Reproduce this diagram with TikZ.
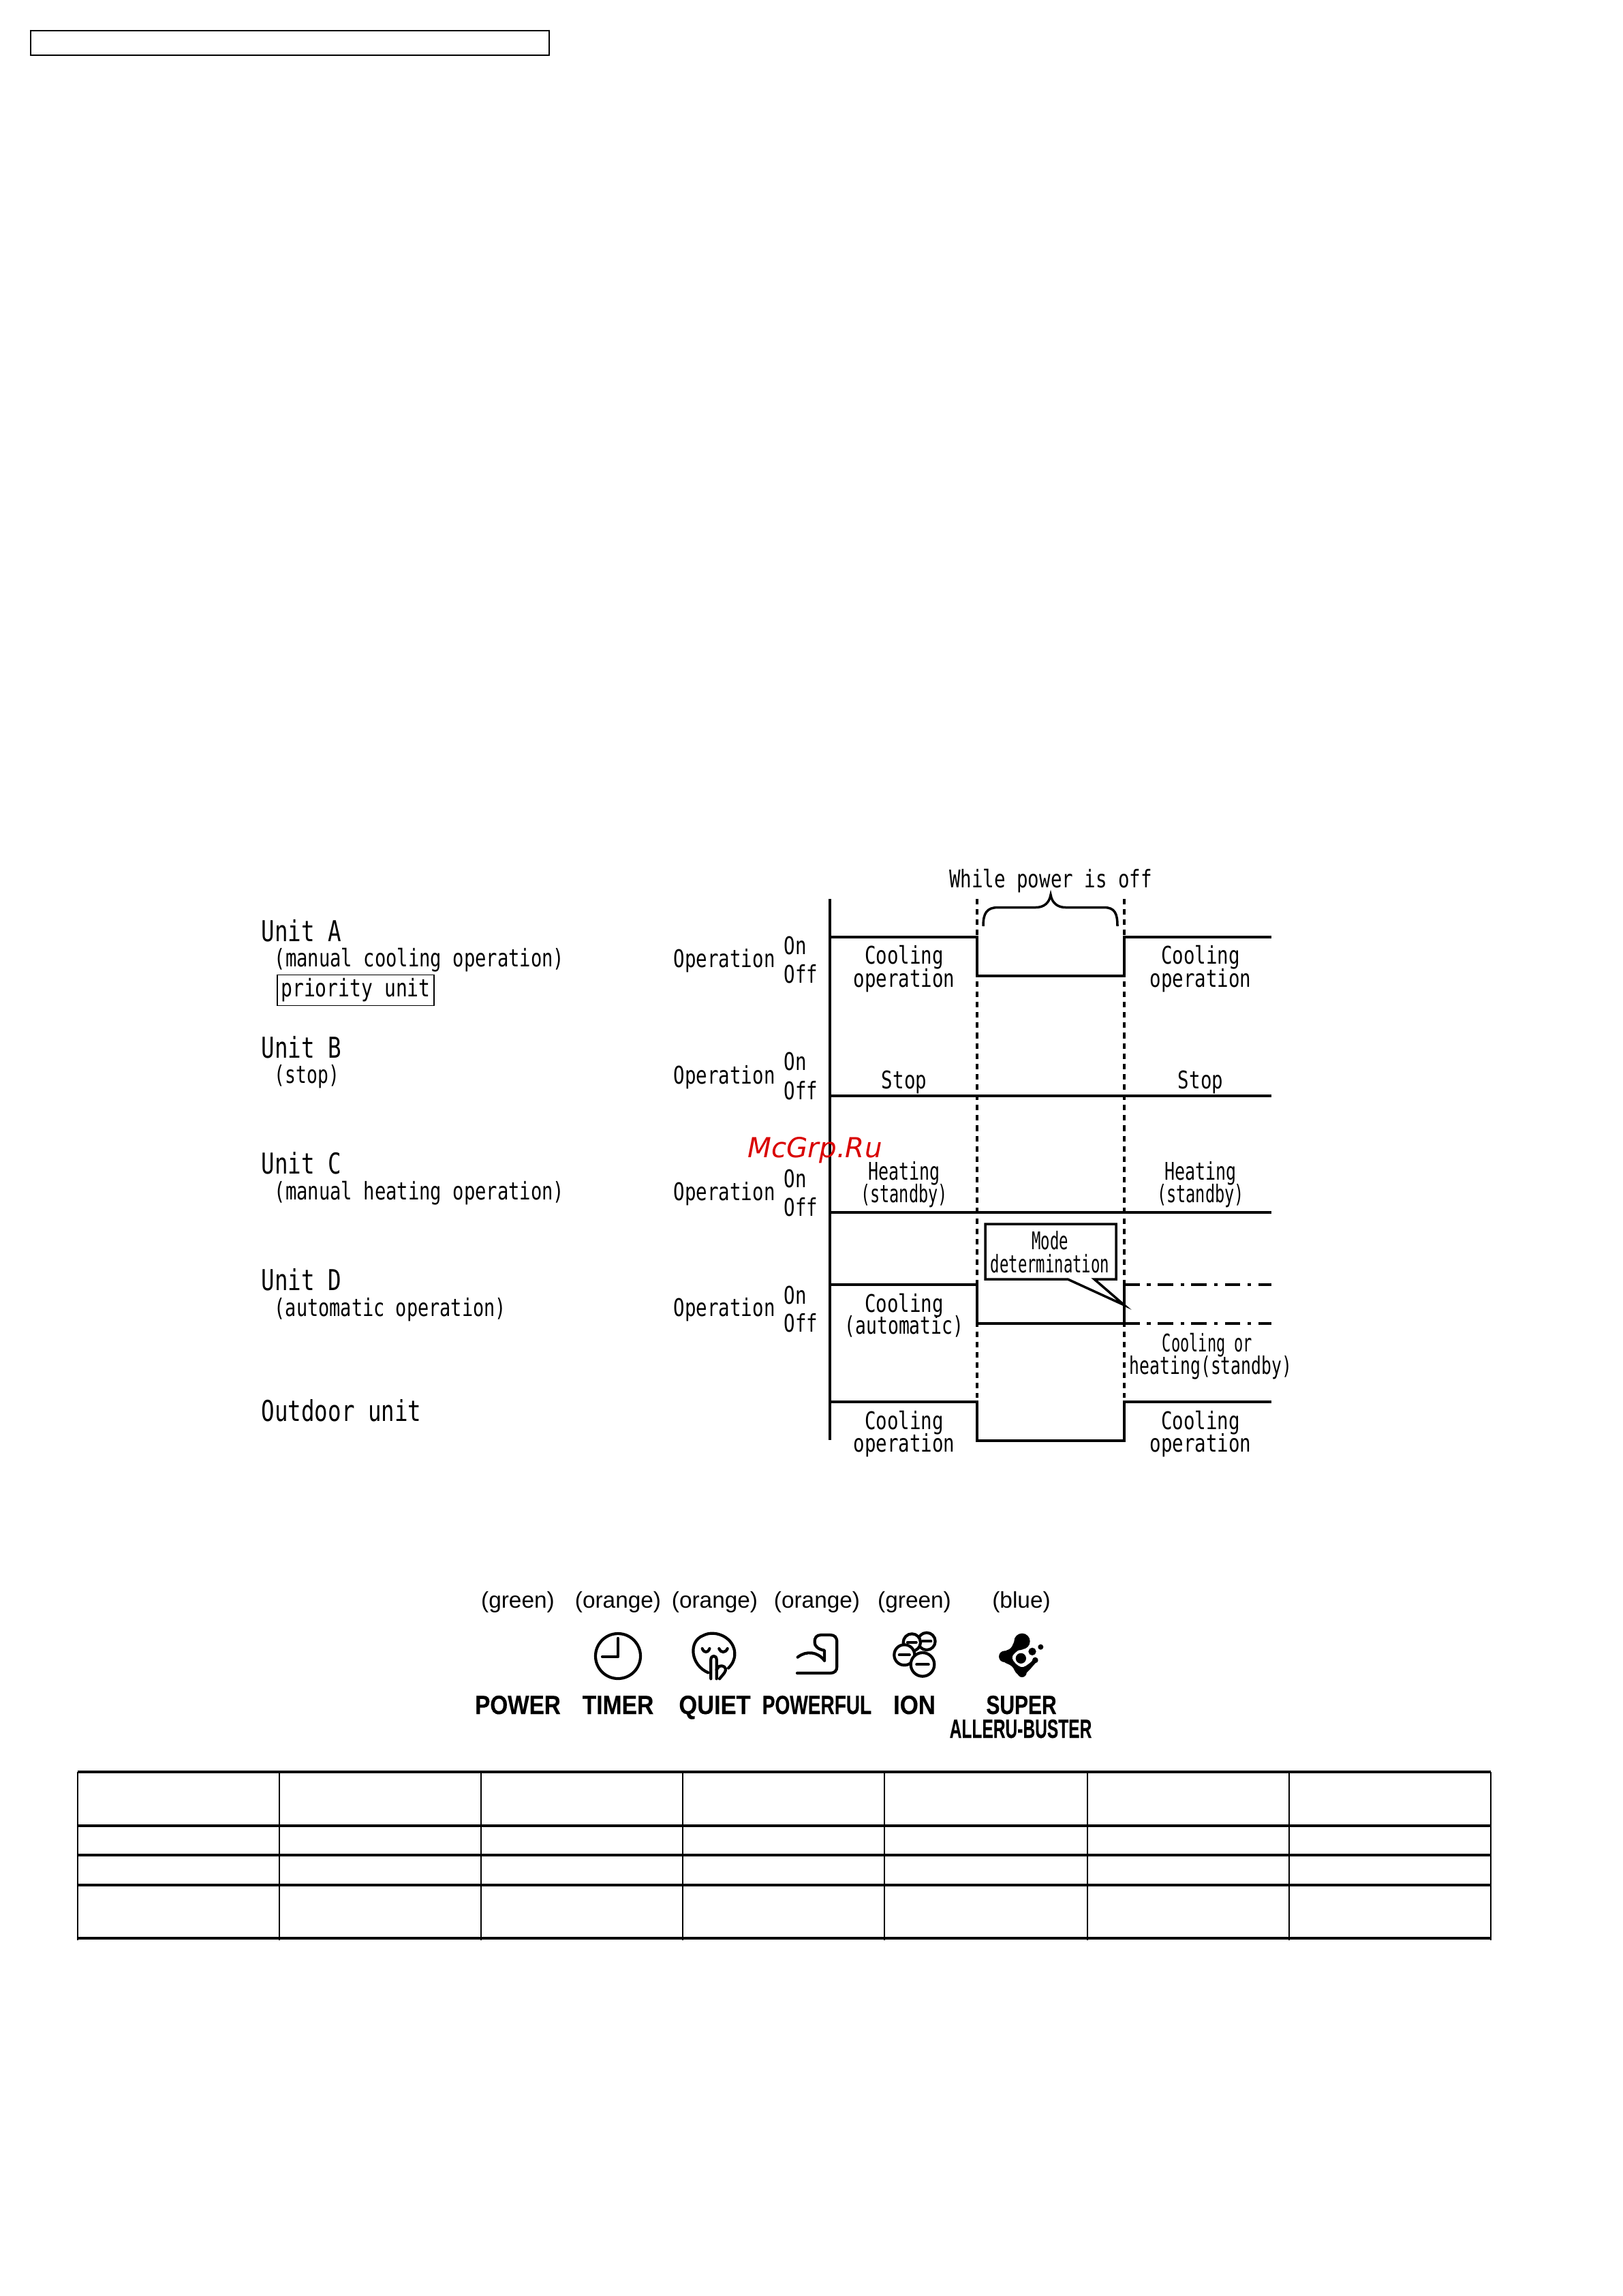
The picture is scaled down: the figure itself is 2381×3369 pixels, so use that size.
\documentclass[tikz,border=0pt]{standalone}
\usepackage{fontspec}
\usepackage{graphicx}
\setmainfont{Liberation Sans}[BoldFeatures={FakeBold=0.4}]
\newfontfamily\gothic[FakeStretch=0.77]{DejaVu Sans Mono}
\newfontfamily\wmfont{DejaVu Sans}
\newcommand{\nar}[2]{\scalebox{#1}[1]{#2}}
\tikzset{
	lbl/.style={inner sep=0pt,anchor=base,font=\gothic\fontsize{10.15}{12}\selectfont},
	lblw/.style={lbl,anchor=base west},
	unitname/.style={inner sep=0pt,anchor=base west,font=\gothic\fontsize{12}{14}\selectfont},
	ledcolor/.style={inner sep=0pt,anchor=base,font=\fontsize{9.5}{11}\selectfont},
	ledname/.style={inner sep=0pt,anchor=base,font=\bfseries\fontsize{11}{12}\selectfont},
	level/.style={line width=1pt},
	levelthick/.style={line width=1.2pt},
	guide/.style={line width=1.1pt,dash pattern=on 2.3pt off 2pt},
	dashlevel/.style={line width=0.9pt,dash pattern=on 6.5pt off 3pt on 1.5pt off 3pt},
	icon/.style={line width=1.2pt,line cap=round,line join=round}
}
\begin{document}
\begin{tikzpicture}[x=0.1mm,y=-0.1mm]
	\useasboundingbox (0,0) rectangle (2381,3369);
	\draw[line width=0.8pt] (45,45) rectangle (806,81);%header box
	%left column
	\foreach \y/\t in {1381/A,1552/B,1722/C,1893/D}{
		\node[unitname] (unit\t) at (383,\y) {Unit \t};
	}
	\node[unitname] (outdoor) at (383,2085) {Outdoor unit};
	\node[lblw] (subA) at (402,1418) {\nar{.99}{(manual cooling operation)}};
	\node[lblw] (subB) at (402,1589) {\nar{.96}{(stop)}};
	\node[lblw] (subC) at (402,1760) {\nar{.99}{(manual heating operation)}};
	\node[lblw] (subD) at (402,1931) {\nar{.98}{(automatic operation)}};
	\node[lbl,draw,line width=0.45pt,anchor=center,minimum width=23mm,minimum height=4.5mm] (prio) at (522,1453) {\nar{1.02}{priority unit}};
	\foreach \y/\n in {1419/1,1590/2,1761/3,1931/4}{
		\node[lblw] (oper\n) at (988,\y) {Operation};
	}
	\foreach \y/\n in {1400/1,1570/2,1742/3,1913/4}{
		\node[lblw] (on\n) at (1150,\y) {On};
	}
	\foreach \y/\n in {1442/1,1613/2,1784/3,1954/4}{
		\node[lblw] (off\n) at (1150,\y) {Off};
	}
	%time chart
	\draw[line width=1.15pt] (1218,1319)--(1218,2113);
	\draw[guide] (1434,1319)--(1434,2051);
	\draw[guide] (1650,1319)--(1650,2051);
	\draw[level] (1218,1375)--(1434,1375)--(1434,1432)--(1650,1432)--(1650,1375)--(1866,1375);%A
	\draw[levelthick] (1434,1432)--(1650,1432);
	\draw[level] (1218,1608)--(1866,1608);%B
	\draw[level] (1218,1779)--(1866,1779);%C
	\draw[level] (1218,1885)--(1434,1885)--(1434,1942)--(1650,1942)--(1650,1885);%D
	\draw[dashlevel] (1650,1885)--(1866,1885);
	\draw[dashlevel] (1650,1942)--(1866,1942);
	\draw[level] (1218,2057)--(1434,2057)--(1434,2114)--(1650,2114)--(1650,2057)--(1866,2057);%outdoor
	%brace
	\draw[line width=1pt] (1443,1359) .. controls (1443,1340) and (1448,1331.5) .. (1465,1331.5) -- (1520,1331.5) .. controls (1532,1331.5) and (1540,1325) .. (1542,1313) .. controls (1544,1325) and (1552,1331.5) .. (1564,1331.5) -- (1620,1331.5) .. controls (1636,1331.5) and (1640,1340) .. (1640,1359);
	\node[lbl] (offtime) at (1542,1302) {While power is off};
	%callout
	\draw[line width=1pt,fill=white] (1446,1796)--(1638,1796)--(1638,1877)--(1606,1877)--(1650,1915)--(1567,1877)--(1446,1877)--cycle;
	\node[lbl] (mode1) at (1541,1833) {\nar{.81}{Mode}};
	\node[lbl] (mode2) at (1541,1867) {\nar{.81}{determination}};
	%texts in the chart
	\foreach \x/\n in {1327/l,1762/r}{
		\node[lbl] (coolA\n) at (\x,1414) {Cooling};
		\node[lbl] (operA\n) at (\x,1448) {operation};
		\node[lbl] (stop\n) at (\x,1597) {Stop};
		\node[lbl] (heat\n) at (\x,1731) {\nar{.91}{Heating}};
		\node[lbl] (stby\n) at (\x,1764) {\nar{.86}{(standby)}};
		\node[lbl] (coolO\n) at (\x,2097) {Cooling};
		\node[lbl] (operO\n) at (\x,2130) {operation};
	}
	\node[lbl] (coolD) at (1327,1925) {Cooling};
	\node[lbl] (autoD) at (1327,1957) {\nar{.96}{(automatic)}};
	\node[lbl] (either1) at (1772,1983) {\nar{.8}{Cooling or}};
	\node[lbl] (either2) at (1777,2016) {\nar{.9}{heating(standby)}};
	%indicator row
	\foreach \x/\t/\n in {760/green/a,907/orange/b,1049/orange/c,1199/orange/d,1342/green/e,1499/blue/f}{
		\node[ledcolor] (led\n) at (\x,2359) {(\t)};
	}
	\node[ledname] (power) at (760,2515) {\nar{.86}{POWER}};
	\node[ledname] (timer) at (907,2515) {\nar{.87}{TIMER}};
	\node[ledname] (quiet) at (1049,2515) {\nar{.89}{QUIET}};
	\node[ledname] (powerful) at (1199,2515) {\nar{.725}{POWERFUL}};
	\node[ledname] (ion) at (1342,2515) {\nar{.9}{ION}};
	\node[ledname] (super) at (1499,2515) {\nar{.775}{SUPER}};
	\node[ledname] (allergy) at (1498,2550) {\nar{.635}{ALLERU-BUSTER}};
	%timer icon
	\draw[icon] (907,2430) circle (33);
	\draw[icon] (907,2404)--(907,2431)--(884,2431);
	%quiet icon
	\begin{scope}[shift={(1000,2385)},scale=0.3333]
		\draw[icon] (118,208) .. controls (40,175) and (30,70) .. (95,45) .. controls (150,15) and (235,55) .. (235,125) .. controls (235,150) and (225,170) .. (207,188);
		\draw[icon] (92,102) .. controls (100,122) and (117,122) .. (124,102);
		\draw[icon] (166,102) .. controls (174,122) and (194,122) .. (203,102);
		\draw[icon] (130,235)--(130,150) .. controls (130,130) and (155,130) .. (155,150)--(155,235);
		\draw[icon] (155,195) .. controls (165,180) and (170,175) .. (178,178) .. controls (195,180) and (200,195) .. (190,208) .. controls (182,220) and (175,225) .. (168,235);
	\end{scope}
	%powerful icon
	\begin{scope}[shift={(1150,2385)},scale=0.3333]
		\draw[icon] (60,210)--(205,210) .. controls (225,210) and (235,200) .. (235,180)--(235,75) .. controls (235,52) and (225,42) .. (205,42)--(165,42) .. controls (145,42) and (135,55) .. (137,75) .. controls (137,90) and (150,105) .. (180,110)--(180,155);
		\draw[icon] (62,140) .. controls (100,110) and (150,115) .. (180,155);
	\end{scope}
	%ion icon
	\begin{scope}[shift={(1150,2385)},scale=0.3333]
		\foreach \cx/\cy/\r in {630/70/38,565/75/38,532/130/45,612/172/52}{
			\draw[icon,fill=white] (\cx,\cy) circle (\r);
			\draw[icon] ({\cx-0.5*\r},\cy)--({\cx+0.5*\r},\cy);
		}
	\end{scope}
	%super alleru-buster icon
	\begin{scope}[shift={(1440,2385)},scale=0.3333]
		\fill[black] plot[smooth cycle,tension=0.7] coordinates {(180,40) (205,70) (185,105) (160,112) (137,145) (175,183) (215,165) (235,142) (245,155) (225,182) (200,208) (180,222) (155,210) (135,180) (100,160) (85,135) (100,115) (130,100) (150,65)};
		\fill[black] (180,70) circle (35);
		\fill[black] (103,137) circle (25);
		\fill[black] (180,208) circle (20);
		\fill[black] (238,153) circle (13);
		\fill[black] (175,145) circle (23);
		\fill[black] (225,115) circle (17);
		\fill[black] (262,95) circle (12);
	\end{scope}
	%table
	\foreach \y in {2600,2679,2722,2766,2844}{
		\draw[line width=1pt] (114,\y)--(2188,\y);
	}
	\foreach \x in {114,410,706,1002,1298,1596,1892,2188}{
		\draw[line width=0.75pt] (\x,2600)--(\x,2847);
	}
	\node[inner sep=0pt,text=red!85!black,font=\wmfont\itshape\fontsize{11.5}{13}\selectfont] (wmark) at (1196,1688) {McGrp.Ru};
\end{tikzpicture}
\end{document}
